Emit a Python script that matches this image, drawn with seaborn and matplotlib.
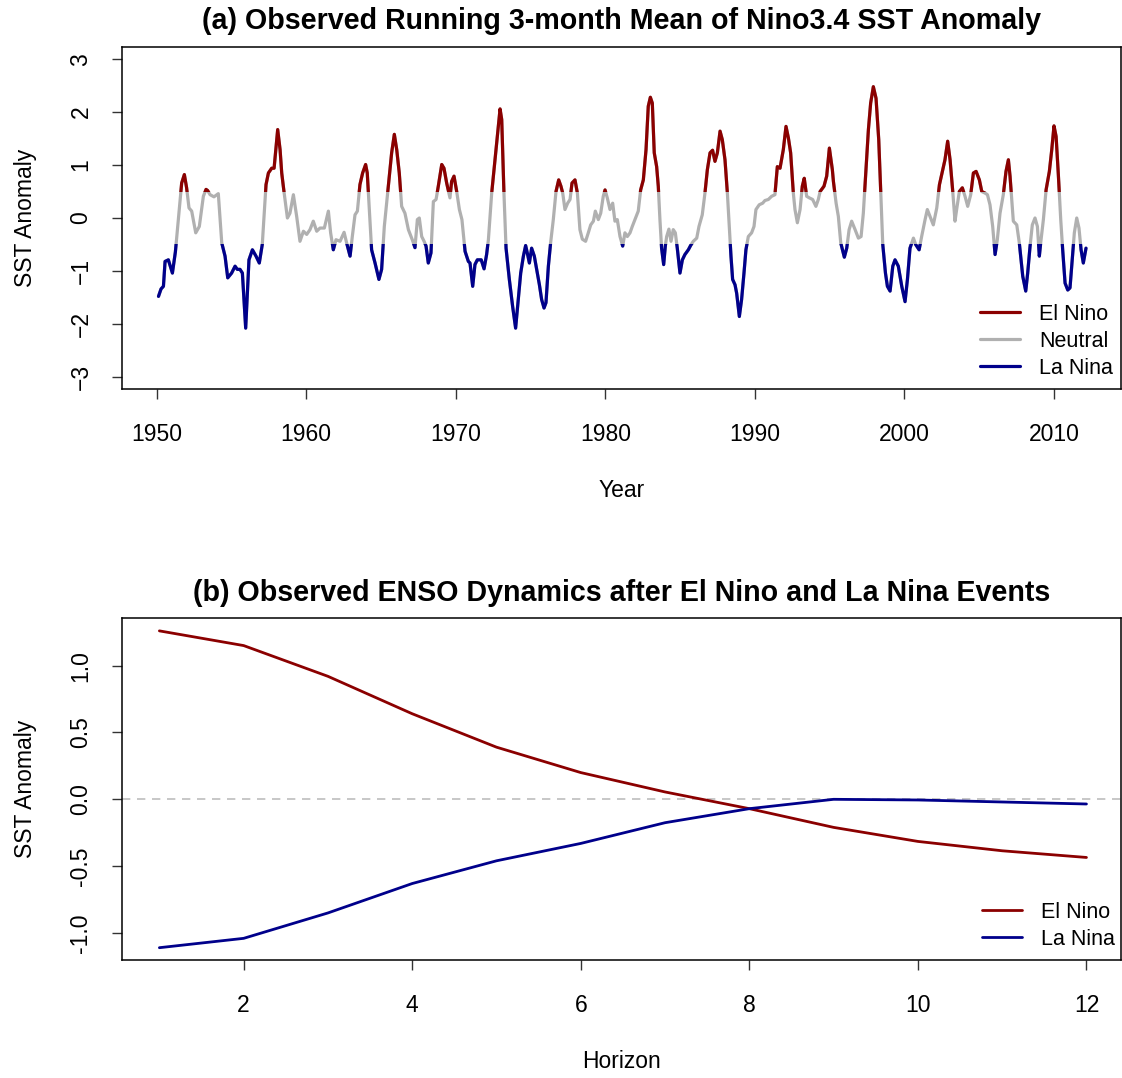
import numpy as np
import pandas as pd
import matplotlib
matplotlib.use("Agg")
import matplotlib.pyplot as plt
from matplotlib.patches import Rectangle
from matplotlib.lines import Line2D
import seaborn as sns

# ---------------- data: panel (a) (decimal year, anomaly) ----------------
yr_1950s = [1950.12, 1950.29, 1950.45, 1950.56, 1950.78, 1950.90, 1951.05, 1951.25, 1951.67, 1951.85,
            1952.00, 1952.16, 1952.34, 1952.61, 1952.85, 1953.12, 1953.30, 1953.40, 1953.57, 1953.83,
            1954.12, 1954.35, 1954.57, 1954.75, 1955.01, 1955.24, 1955.39, 1955.57, 1955.73, 1955.95,
            1956.17, 1956.40, 1956.64, 1956.86, 1957.06, 1957.31, 1957.47, 1957.69, 1957.85, 1958.09,
            1958.25, 1958.36, 1958.51, 1958.74, 1958.91, 1959.14, 1959.36, 1959.58, 1959.81]
sst_1950s = [-1.48, -1.34, -1.29, -0.82, -0.79, -0.90, -1.04, -0.64, 0.66, 0.82,
             0.57, 0.19, 0.13, -0.28, -0.16, 0.41, 0.54, 0.52, 0.44, 0.40,
             0.46, -0.47, -0.72, -1.13, -1.04, -0.91, -0.97, -0.97, -1.04, -2.08,
             -0.79, -0.60, -0.72, -0.85, -0.50, 0.63, 0.85, 0.94, 0.94, 1.67,
             1.29, 0.85, 0.50, 0.00, 0.09, 0.44, 0.03, -0.44, -0.25]

yr_1960s = [1960.03, 1960.25, 1960.47, 1960.70, 1960.92, 1961.21, 1961.48, 1961.63, 1961.81, 1961.99,
            1962.26, 1962.53, 1962.70, 1962.93, 1963.08, 1963.26, 1963.42, 1963.59, 1963.77, 1963.97,
            1964.08, 1964.26, 1964.37, 1964.60, 1964.86, 1965.04, 1965.22, 1965.49, 1965.71, 1965.89,
            1966.05, 1966.22, 1966.38, 1966.60, 1966.83, 1967.09, 1967.27, 1967.43, 1967.56, 1967.72,
            1967.88, 1968.01, 1968.16, 1968.34, 1968.50, 1968.68, 1968.83, 1969.06, 1969.21, 1969.39,
            1969.61, 1969.72, 1969.88]
sst_1960s = [-0.31, -0.22, -0.06, -0.25, -0.19, -0.19, 0.13, -0.28, -0.60, -0.41,
             -0.44, -0.27, -0.47, -0.72, -0.35, 0.06, 0.13, 0.63, 0.85, 1.01,
             0.85, -0.03, -0.60, -0.85, -1.16, -0.97, -0.16, 0.60, 1.23, 1.58,
             1.29, 0.85, 0.22, 0.09, -0.22, -0.41, -0.56, -0.03, 0.00, -0.35,
             -0.44, -0.53, -0.85, -0.66, 0.31, 0.35, 0.60, 1.01, 0.94, 0.66,
             0.38, 0.69, 0.79]

yr_1970s = [1970.06, 1970.24, 1970.41, 1970.62, 1970.84, 1970.95, 1971.13, 1971.28, 1971.44, 1971.70,
            1971.89, 1972.06, 1972.18, 1972.40, 1972.62, 1972.78, 1972.96, 1973.07, 1973.22, 1973.36,
            1973.58, 1973.80, 1974.00, 1974.18, 1974.34, 1974.52, 1974.67, 1974.78, 1974.92, 1975.07,
            1975.25, 1975.41, 1975.59, 1975.74, 1975.90, 1976.03, 1976.19, 1976.34, 1976.52, 1976.70,
            1976.88, 1977.03, 1977.15, 1977.30, 1977.48, 1977.64, 1977.77, 1977.97, 1978.13, 1978.30,
            1978.46, 1978.68, 1978.86, 1979.02, 1979.20, 1979.33, 1979.53, 1979.69, 1979.86, 1979.98]
sst_1970s = [0.50, 0.16, -0.03, -0.63, -0.82, -0.85, -1.29, -0.88, -0.79, -0.79,
             -0.96, -0.69, -0.41, 0.47, 1.10, 1.54, 2.06, 1.86, 0.47, -0.57,
             -1.16, -1.67, -2.08, -1.54, -1.04, -0.72, -0.52, -0.66, -0.85, -0.57,
             -0.72, -0.97, -1.26, -1.54, -1.70, -1.60, -0.91, -0.47, -0.03, 0.50,
             0.72, 0.60, 0.47, 0.16, 0.28, 0.35, 0.66, 0.72, 0.47, -0.22,
             -0.40, -0.44, -0.28, -0.13, -0.06, 0.13, -0.03, 0.09, 0.41, 0.53]

yr_1980s = [1980.13, 1980.31, 1980.49, 1980.64, 1980.80, 1980.98, 1981.16, 1981.31, 1981.47, 1981.65,
            1981.80, 1981.98, 1982.20, 1982.36, 1982.54, 1982.72, 1982.87, 1983.01, 1983.14, 1983.27,
            1983.43, 1983.54, 1983.65, 1983.76, 1983.90, 1984.01, 1984.10, 1984.25, 1984.39, 1984.54,
            1984.68, 1984.81, 1984.99, 1985.15, 1985.32, 1985.55, 1985.70, 1985.88, 1986.11, 1986.26,
            1986.48, 1986.66, 1986.82, 1987.00, 1987.17, 1987.33, 1987.49, 1987.67, 1987.82, 1988.00,
            1988.16, 1988.29, 1988.40, 1988.51, 1988.67, 1988.78, 1988.96, 1989.11, 1989.27, 1989.40,
            1989.56, 1989.78, 1989.94]
sst_1980s = [0.38, 0.16, 0.28, -0.06, -0.03, -0.35, -0.53, -0.28, -0.35, -0.28,
             -0.16, -0.03, 0.13, 0.53, 0.72, 1.29, 2.11, 2.28, 2.17, 1.23,
             0.97, 0.60, -0.03, -0.57, -0.88, -0.53, -0.35, -0.21, -0.44, -0.22,
             -0.28, -0.57, -1.04, -0.79, -0.69, -0.60, -0.52, -0.44, -0.38, -0.16,
             0.06, 0.47, 0.91, 1.23, 1.28, 1.07, 1.23, 1.64, 1.48, 1.10,
             0.47, -0.16, -0.72, -1.16, -1.26, -1.42, -1.86, -1.54, -1.04, -0.60,
             -0.35, -0.28, -0.16]

yr_1990s = [1990.07, 1990.29, 1990.52, 1990.67, 1990.90, 1991.12, 1991.34, 1991.50, 1991.68, 1991.90,
            1992.08, 1992.24, 1992.39, 1992.57, 1992.68, 1992.84, 1993.02, 1993.17, 1993.30, 1993.46,
            1993.64, 1993.86, 1994.08, 1994.24, 1994.36, 1994.62, 1994.80, 1994.98, 1995.18, 1995.25,
            1995.43, 1995.58, 1995.74, 1995.98, 1996.14, 1996.30, 1996.47, 1996.70, 1996.92, 1997.10,
            1997.25, 1997.41, 1997.59, 1997.74, 1997.92, 1998.10, 1998.28, 1998.41, 1998.55, 1998.73,
            1998.86, 1999.04, 1999.22, 1999.37, 1999.59, 1999.82]
sst_1990s = [0.16, 0.25, 0.28, 0.33, 0.35, 0.41, 0.44, 0.97, 0.94, 1.29,
             1.73, 1.51, 1.23, 0.47, 0.16, -0.09, 0.16, 0.60, 0.75, 0.41,
             0.38, 0.35, 0.22, 0.35, 0.50, 0.60, 0.79, 1.32, 0.91, 0.69,
             0.28, 0.03, -0.47, -0.74, -0.57, -0.22, -0.06, -0.22, -0.38, -0.35,
             0.09, 0.82, 1.67, 2.17, 2.48, 2.26, 1.48, 0.50, -0.50, -1.04,
             -1.29, -1.38, -0.91, -0.79, -0.91, -1.29]

yr_2000s = [2000.04, 2000.20, 2000.37, 2000.60, 2000.75, 2000.98, 2001.15, 2001.38, 2001.53, 2001.71,
            2001.93, 2002.16, 2002.34, 2002.56, 2002.71, 2002.89, 2003.05, 2003.23, 2003.38, 2003.49,
            2003.67, 2003.87, 2004.05, 2004.23, 2004.43, 2004.61, 2004.79, 2005.01, 2005.17, 2005.39,
            2005.55, 2005.72, 2005.90, 2006.06, 2006.21, 2006.39, 2006.61, 2006.79, 2006.95, 2007.06,
            2007.28, 2007.51, 2007.68, 2007.91, 2008.11, 2008.24, 2008.40, 2008.55, 2008.73, 2008.89,
            2009.02, 2009.11, 2009.29, 2009.47, 2009.69, 2009.85]
sst_2000s = [-1.58, -1.16, -0.57, -0.38, -0.50, -0.60, -0.35, -0.03, 0.16, 0.03,
             -0.13, 0.19, 0.63, 0.91, 1.10, 1.45, 1.10, 0.50, -0.06, 0.16,
             0.50, 0.57, 0.41, 0.22, 0.44, 0.85, 0.88, 0.72, 0.50, 0.47,
             0.44, 0.25, -0.16, -0.69, -0.41, 0.09, 0.44, 0.88, 1.10, 0.79,
             -0.06, -0.13, -0.47, -1.10, -1.38, -1.04, -0.53, -0.13, 0.00, -0.16,
             -0.72, -0.47, -0.03, 0.53, 0.88, 1.29]

yr_2010s = [2010.00, 2010.14, 2010.29, 2010.45, 2010.58, 2010.74, 2010.92, 2011.07, 2011.25, 2011.36,
            2011.52, 2011.67, 2011.81, 2011.96, 2012.14]
sst_2010s = [1.74, 1.54, 0.82, -0.03, -0.60, -1.23, -1.36, -1.32, -0.66, -0.28,
             0.00, -0.19, -0.60, -0.85, -0.57]

# ---------------- data: panel (b) ----------------
horizon = list(range(1, 13))
el_nino_path = [1.26, 1.15, 0.92, 0.64, 0.39, 0.20, 0.055, -0.07, -0.21, -0.315, -0.385, -0.435]
la_nina_path = [-1.11, -1.04, -0.85, -0.63, -0.46, -0.33, -0.175, -0.07, 0.00, -0.005, -0.02, -0.035]

# ---------------- style ----------------
RED = "#8B0000"
BLUE = "#00008B"
GREY = "#B0B0B0"
FS = 16.5

sns.set_theme(style="white")
plt.rcParams['font.family'] = ['Liberation Sans', 'DejaVu Sans']
plt.rcParams['axes.edgecolor'] = 'black'
plt.rcParams['axes.linewidth'] = 1.1
plt.rcParams['text.color'] = 'black'
plt.rcParams['axes.labelcolor'] = 'black'
plt.rcParams['axes.titlecolor'] = 'black'
plt.rcParams['xtick.color'] = 'black'
plt.rcParams['ytick.color'] = 'black'
plt.rcParams['legend.labelcolor'] = 'black'

years = yr_1950s + yr_1960s + yr_1970s + yr_1980s + yr_1990s + yr_2000s + yr_2010s
sst = sst_1950s + sst_1960s + sst_1970s + sst_1980s + sst_1990s + sst_2000s + sst_2010s
df_a = pd.DataFrame({"Year": years, "SST": sst})

df_b = pd.DataFrame({
    "Horizon": horizon * 2,
    "SST": el_nino_path + la_nina_path,
    "Event": ["El Nino"] * 12 + ["La Nina"] * 12,
})

fig = plt.figure(figsize=(11.22, 10.78), dpi=100)
W, H = 1122.0, 1078.0
ax1 = fig.add_axes([122.3 / W, 1 - 389.3 / H, (1121 - 122.3) / W, (389.3 - 46.7) / H])
ax2 = fig.add_axes([122.3 / W, 1 - 960.0 / H, (1121 - 122.3) / W, (960.0 - 618.3) / H])


def style_axes(ax):
    for s in ax.spines.values():
        s.set_visible(True)
        s.set_color('black')
        s.set_linewidth(1.1)
    ax.tick_params(axis='both', which='major', direction='out', length=7.5, width=1.0,
                   color='#333333', labelsize=FS, labelcolor='black', bottom=True, left=True,
                   top=False, right=False)
    ax.tick_params(axis='x', pad=17)
    ax.tick_params(axis='y', pad=14)
    for lab in ax.get_yticklabels():
        lab.set_rotation(90)
        lab.set_va('center')
    ax.grid(False)


# ---------------- panel (a) ----------------
lw_a = 2.3
sns.lineplot(data=df_a, x="Year", y="SST", ax=ax1, color=GREY, linewidth=lw_a,
             estimator=None, sort=False, legend=False)
sns.lineplot(data=df_a, x="Year", y="SST", ax=ax1, color=RED, linewidth=lw_a,
             estimator=None, sort=False, legend=False)
ax1.lines[-1].set_clip_path(Rectangle((1900, 0.5), 200, 10, transform=ax1.transData))
sns.lineplot(data=df_a, x="Year", y="SST", ax=ax1, color=BLUE, linewidth=lw_a,
             estimator=None, sort=False, legend=False)
ax1.lines[-1].set_clip_path(Rectangle((1900, -10.5), 200, 10, transform=ax1.transData))
for ln in ax1.lines:
    ln.set_solid_capstyle('round')
    ln.set_solid_joinstyle('round')

ax1.set_xlim(1947.70, 2014.48)
ax1.set_ylim(-3.235, 3.235)
ax1.set_xticks([1950, 1960, 1970, 1980, 1990, 2000, 2010])
ax1.set_yticks([-3, -2, -1, 0, 1, 2, 3])
style_axes(ax1)
ax1.set_title("(a) Observed Running 3-month Mean of Nino3.4 SST Anomaly",
              fontsize=20.6, fontweight='bold', pad=12.5, color='black')
ax1.set_xlabel("Year", fontsize=FS)
ax1.set_ylabel("SST Anomaly", fontsize=FS)
ax1.xaxis.set_label_coords(0.5, -0.263)
ax1.yaxis.set_label_coords(-0.085, 0.5)

handles_a = [Line2D([], [], color=RED, lw=lw_a), Line2D([], [], color=GREY, lw=lw_a),
             Line2D([], [], color=BLUE, lw=lw_a)]
ax1.legend(handles_a, ["El Nino", "Neutral", "La Nina"], loc='upper left',
           bbox_to_anchor=(0.8588, 0.250), frameon=False, fontsize=15.5,
           handlelength=1.85, handletextpad=0.9, labelspacing=0.28,
           borderpad=0, borderaxespad=0)

# ---------------- panel (b) ----------------
lw_b = 2.0
ax2.axhline(0, color='#BEBEBE', linewidth=1.2, linestyle=(0, (5, 4)), zorder=1)
sns.lineplot(data=df_b, x="Horizon", y="SST", hue="Event", palette={"El Nino": RED, "La Nina": BLUE},
             ax=ax2, linewidth=lw_b, estimator=None, legend=False)
ax2.set_xlim(0.56, 12.41)
ax2.set_ylim(-1.202, 1.354)
ax2.set_xticks([2, 4, 6, 8, 10, 12])
ax2.set_yticks([-1.0, -0.5, 0.0, 0.5, 1.0])
ax2.set_yticklabels(["-1.0", "-0.5", "0.0", "0.5", "1.0"])
style_axes(ax2)
ax2.set_title("(b) Observed ENSO Dynamics after El Nino and La Nina Events",
              fontsize=20.6, fontweight='bold', pad=12.5, color='black')
ax2.set_xlabel("Horizon", fontsize=FS)
ax2.set_ylabel("SST Anomaly", fontsize=FS)
ax2.xaxis.set_label_coords(0.5, -0.263)
ax2.yaxis.set_label_coords(-0.085, 0.5)

handles_b = [Line2D([], [], color=RED, lw=lw_b), Line2D([], [], color=BLUE, lw=lw_b)]
ax2.legend(handles_b, ["El Nino", "La Nina"], loc='upper left',
           bbox_to_anchor=(0.8605, 0.170), frameon=False, fontsize=15.5,
           handlelength=1.85, handletextpad=0.9, labelspacing=0.28,
           borderpad=0, borderaxespad=0)

fig.savefig("out.png", dpi=100, facecolor='white')
